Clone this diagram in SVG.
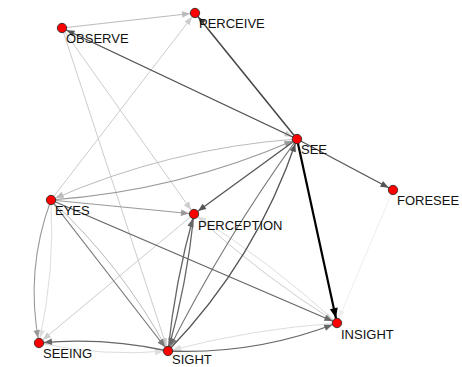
<svg xmlns="http://www.w3.org/2000/svg" width="462" height="367" viewBox="0 0 462 367">
  <style>
    .e { fill: none; }
    .c0 { stroke: #000; stroke-width: 2.2; }
    .c4 { stroke: #444; stroke-width: 1.5; }
    .c5 { stroke: #555; stroke-width: 1.3; }
    .c6 { stroke: #666; stroke-width: 1.3; }
    .c7 { stroke: #777; stroke-width: 1.2; }
    .c9 { stroke: #999; stroke-width: 1.1; }
    .cb { stroke: #bbb; stroke-width: 1; }
    .cc { stroke: #ccc; stroke-width: 1; }
    .cd { stroke: #ddd; stroke-width: 1; }
    .ce { stroke: #eee; stroke-width: 1; }
    .node circle { fill: #ff0000; stroke: #222; stroke-width: 0.8; }
    .node text { font-family: "Liberation Sans", Arial, sans-serif; font-size: 13px; fill: #111; }
  </style>
  <defs>
    <marker id="a0" markerUnits="userSpaceOnUse" markerWidth="20" markerHeight="20" refX="15" refY="4" orient="auto" overflow="visible"><path d="M0,0 L10,4 L0,8 z" fill="#000"/></marker>
    <marker id="a4" markerUnits="userSpaceOnUse" markerWidth="20" markerHeight="20" refX="13" refY="3.2" orient="auto" overflow="visible"><path d="M0,0 L8,3.2 L0,6.4 z" fill="#444"/></marker>
    <marker id="a5" markerUnits="userSpaceOnUse" markerWidth="20" markerHeight="20" refX="13" refY="3.2" orient="auto" overflow="visible"><path d="M0,0 L8,3.2 L0,6.4 z" fill="#555"/></marker>
    <marker id="a6" markerUnits="userSpaceOnUse" markerWidth="20" markerHeight="20" refX="13" refY="3.2" orient="auto" overflow="visible"><path d="M0,0 L8,3.2 L0,6.4 z" fill="#666"/></marker>
    <marker id="a7" markerUnits="userSpaceOnUse" markerWidth="20" markerHeight="20" refX="13" refY="3.2" orient="auto" overflow="visible"><path d="M0,0 L8,3.2 L0,6.4 z" fill="#777"/></marker>
    <marker id="a9" markerUnits="userSpaceOnUse" markerWidth="20" markerHeight="20" refX="13" refY="3.2" orient="auto" overflow="visible"><path d="M0,0 L8,3.2 L0,6.4 z" fill="#999"/></marker>
    <marker id="ab" markerUnits="userSpaceOnUse" markerWidth="20" markerHeight="20" refX="13" refY="3.2" orient="auto" overflow="visible"><path d="M0,0 L8,3.2 L0,6.4 z" fill="#bbb"/></marker>
    <marker id="ac" markerUnits="userSpaceOnUse" markerWidth="20" markerHeight="20" refX="13" refY="3.2" orient="auto" overflow="visible"><path d="M0,0 L8,3.2 L0,6.4 z" fill="#ccc"/></marker>
    <marker id="ad" markerUnits="userSpaceOnUse" markerWidth="20" markerHeight="20" refX="13" refY="3.2" orient="auto" overflow="visible"><path d="M0,0 L8,3.2 L0,6.4 z" fill="#ddd"/></marker>
    <marker id="ae" markerUnits="userSpaceOnUse" markerWidth="20" markerHeight="20" refX="13" refY="3.2" orient="auto" overflow="visible"><path d="M0,0 L8,3.2 L0,6.4 z" fill="#eee"/></marker>
  </defs>

  <!-- connectors, lightest first -->
  <g id="edges">
    <path class="e ce" d="M393,190 L337,323" marker-end="url(#ae)"/>
    <path class="e cd" d="M39,343 Q103.5,357 168,351" marker-end="url(#ad)"/>
    <path class="e cd" d="M337,323 Q251.2,329.1 168,351" marker-end="url(#ad)"/>
    <path class="e cd" d="M51,200 Q55,272 39,343" marker-end="url(#ad)"/>
    <path class="e cd" d="M337,323 Q270.3,262.1 194,214" marker-end="url(#ad)"/>
    <path class="e cc" d="M194,214 Q260.7,274.9 337,323" marker-end="url(#ac)"/>
    <path class="e cc" d="M62,28 L297,139" marker-end="url(#ac)"/>
    <path class="e cc" d="M62,28 L194,214" marker-end="url(#ac)"/>
    <path class="e cc" d="M62,28 L168,351" marker-end="url(#ac)"/>
    <path class="e cc" d="M51,200 L195,13" marker-end="url(#ac)"/>
    <path class="e cc" d="M194,214 L39,343" marker-end="url(#ac)"/>
    <path class="e cb" d="M62,28 L195,13" marker-end="url(#ab)"/>
    <path class="e cb" d="M51,200 Q122,265.7 168,351" marker-end="url(#ab)"/>
    <path class="e cb" d="M297,139 Q168.7,148.2 51,200" marker-end="url(#ab)"/>
    <path class="e c9" d="M51,200 Q179.3,190.8 297,139" marker-end="url(#a9)"/>
    <path class="e c9" d="M51,200 L194,214" marker-end="url(#a9)"/>
    <path class="e c9" d="M51,200 Q25,270 39,343" marker-end="url(#a9)"/>
    <path class="e c7" d="M51,200 L168,351" marker-end="url(#a7)"/>
    <path class="e c7" d="M297,139 Q224,239.8 168,351" marker-end="url(#a7)"/>
    <path class="e c6" d="M51,200 L337,323" marker-end="url(#a6)"/>
    <path class="e c6" d="M168,351 Q175.1,281.4 194,214" marker-end="url(#a6)"/>
    <path class="e c6" d="M194,214 Q186.9,283.6 168,351" marker-end="url(#a6)"/>
    <path class="e c6" d="M168,351 Q103.5,337 39,343" marker-end="url(#a6)"/>
    <path class="e c6" d="M168,351 Q255.4,354.8 337,323" marker-end="url(#a6)"/>
    <path class="e c5" d="M168,351 Q256.4,259.6 297,139" marker-end="url(#a5)"/>
    <path class="e c5" d="M297,139 L62,28" marker-end="url(#a5)"/>
    <path class="e c5" d="M297,139 L393,190" marker-end="url(#a5)"/>
    <path class="e c5" d="M297,139 L194,214" marker-end="url(#a5)"/>
    <path class="e c4" d="M297,139 L195,13" marker-end="url(#a4)"/>
    <path class="e c0" d="M297,139 L337,323" marker-end="url(#a0)"/>
  </g>

  <!-- vertices -->
  <g id="observe" class="node"><circle cx="62" cy="28" r="4.7"/><text x="66" y="43">OBSERVE</text></g>
  <g id="perceive" class="node"><circle cx="195" cy="13" r="4.7"/><text x="199" y="28">PERCEIVE</text></g>
  <g id="see" class="node"><circle cx="297" cy="139" r="4.7"/><text x="301" y="154">SEE</text></g>
  <g id="foresee" class="node"><circle cx="393" cy="190" r="4.7"/><text x="397" y="205">FORESEE</text></g>
  <g id="eyes" class="node"><circle cx="51" cy="200" r="4.7"/><text x="55" y="215">EYES</text></g>
  <g id="perception" class="node"><circle cx="194" cy="214" r="4.7"/><text x="198" y="230">PERCEPTION</text></g>
  <g id="seeing" class="node"><circle cx="39" cy="343" r="4.7"/><text x="43" y="358">SEEING</text></g>
  <g id="sight" class="node"><circle cx="168" cy="351" r="4.7"/><text x="172" y="364">SIGHT</text></g>
  <g id="insight" class="node"><circle cx="337" cy="323" r="4.7"/><text x="341" y="339">INSIGHT</text></g>
</svg>
